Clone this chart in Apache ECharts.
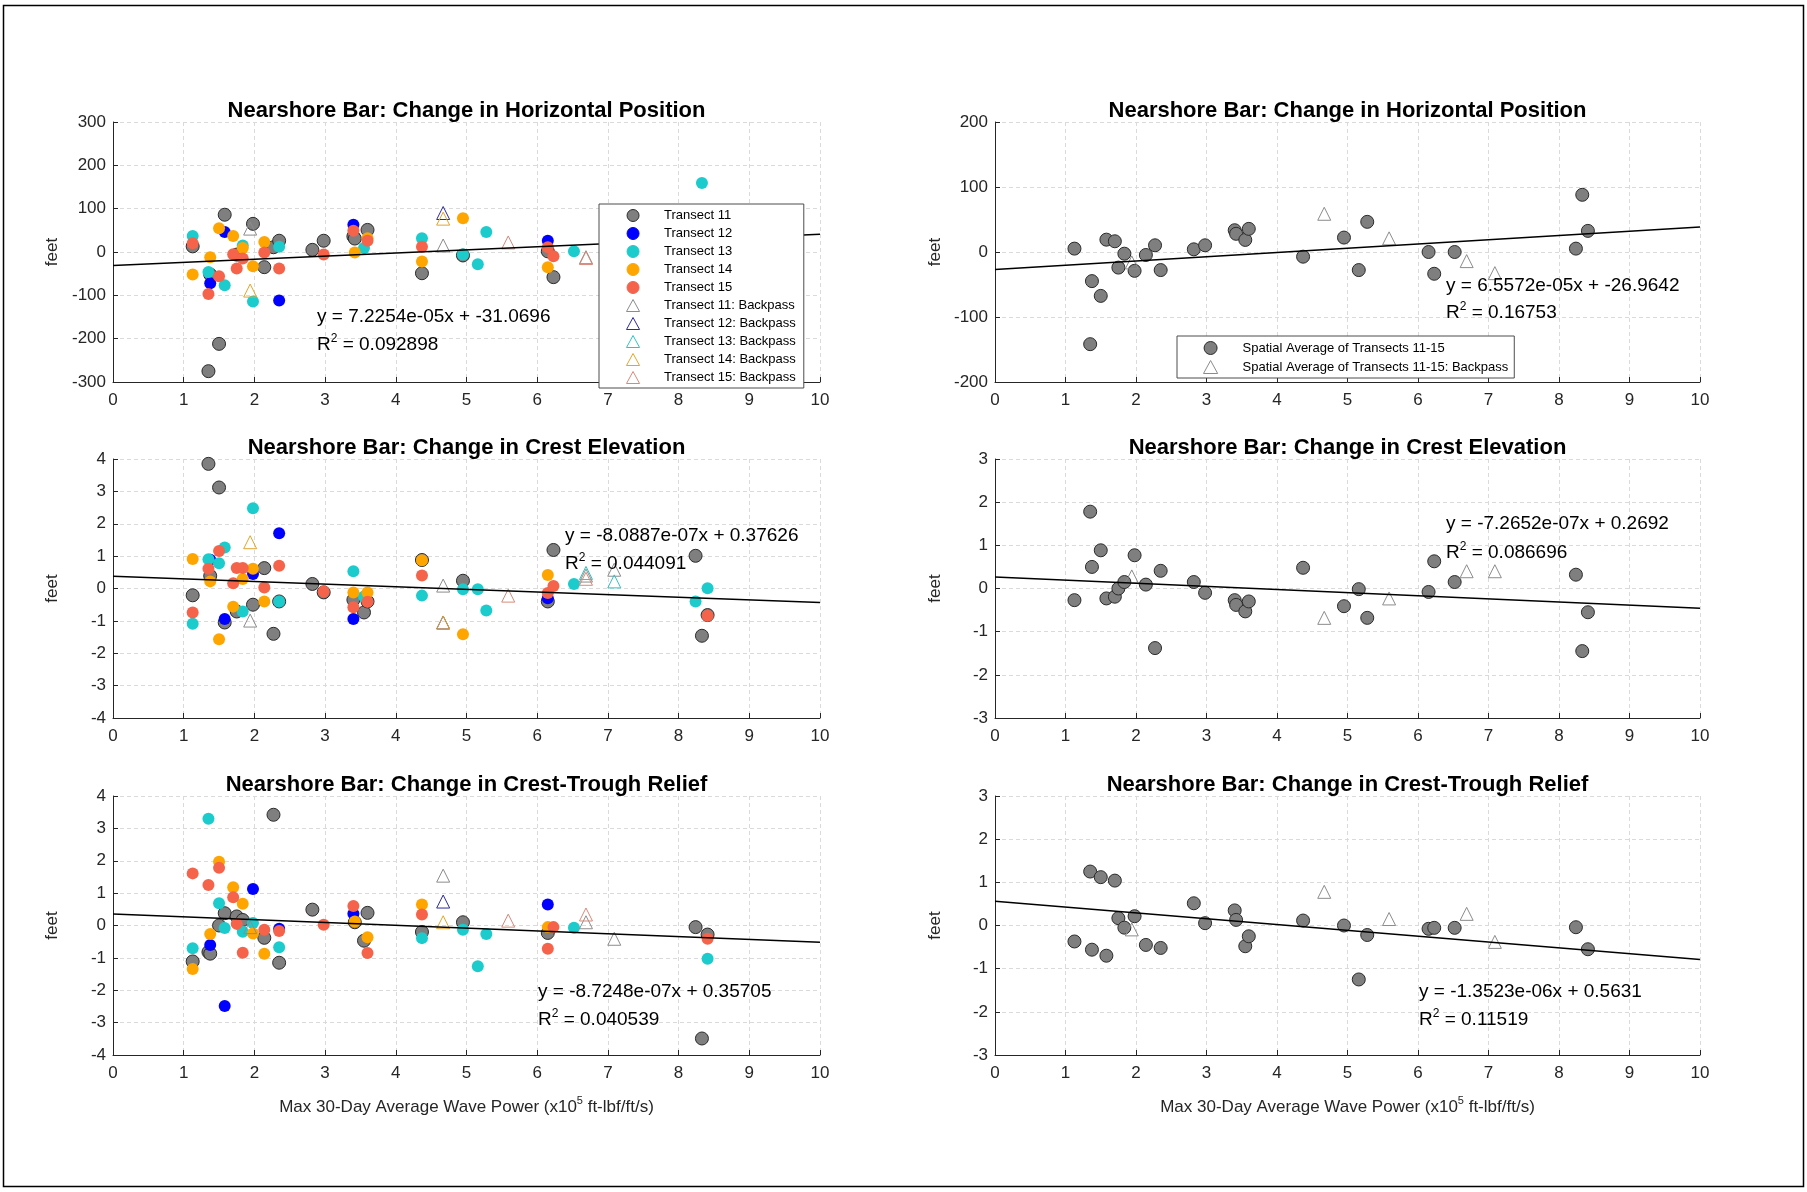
<!DOCTYPE html>
<html>
<head>
<meta charset="utf-8">
<script src="https://cdn.jsdelivr.net/npm/echarts@6/dist/echarts.min.js"></script>
<style>
  html, body { margin: 0; padding: 0; background: #fff; }
  #chart { width: 1807px; height: 1192px; }
</style>
</head>
<body>
<div id="chart"></div>
<script>
// Max 30-day average wave power (x10^5 ft-lbf/ft/s) for each survey
const wavePower = [1.127, 1.35, 1.375, 1.50, 1.58, 1.70, 1.75, 1.835, 1.98, 2.14, 2.27, 2.35, 2.82, 2.98,
  3.40, 3.42, 3.55, 3.60, 4.37, 4.95, 5.16, 5.28, 6.15, 6.23, 6.52, 8.24, 8.33, 8.41];
// Wave power for the backpass surveys
const backpassPower = [1.94, 4.67, 5.59, 6.69, 7.09];

// Change in horizontal position (feet)
const horizT11 = [13, -275, -52, -212, 86, null, -6, null, 65, -35, 11, 26, 5, 26, 36, 31, null, 51, -49, -8, null, null, 1.5, -58, null, null, null, null];
const horizT12 = [null, null, -72, null, 46, null, null, null, null, null, null, -112, null, null, 63, null, null, null, null, null, null, null, 26, null, null, null, null, null];
const horizT13 = [37, -46, null, null, -77, null, null, 15, -114, null, null, 12, null, null, null, null, 9, null, 32, -6, -28, 46, null, null, 1.5, null, 159, null];
const horizT14 = [-52, null, -12, 55, null, 37, null, 9, -33, 23, null, null, null, null, null, -1, null, 32, -22, 78, null, null, -35, null, null, null, null, null];
const horizT15 = [20, -97, null, -56, null, -5, -38, -15, null, -1, null, -38, null, -6, 49, null, null, 26, 12, null, null, null, 11, -10, null, null, null, null];
const horizBpT11 = [54, 15, null, -12, null];
const horizBpT12 = [null, 90, null, null, null];
const horizBpT13 = [null, null, null, null, null];
const horizBpT14 = [-89, 77, null, null, null];
const horizBpT15 = [null, null, 22, -14, null];

// Change in crest elevation (feet)
const crestT11 = [-0.21, 3.85, 0.39, 3.12, -1.05, null, -0.71, null, -0.5, 0.63, -1.40, -0.4, 0.14, -0.12, -0.35, null, -0.74, -0.4, 0.88, 0.24, null, null, -0.4, 1.19, null, 1.01, -1.46, -0.82];
const crestT12 = [null, null, 0.89, null, -0.94, null, null, null, 0.45, null, null, 1.71, null, null, -0.94, null, null, null, null, null, null, null, -0.3, null, null, null, null, null];
const crestT13 = [-1.09, 0.9, null, 0.78, 1.27, null, null, -0.71, 2.48, null, null, -0.4, null, null, 0.53, null, -0.25, null, -0.22, -0.02, -0.02, -0.68, null, null, 0.14, -0.40, null, 0.01];
const crestT14 = [0.91, null, 0.22, -1.57, null, -0.56, null, 0.29, 0.61, -0.40, null, null, null, null, -0.12, null, null, -0.12, 0.87, -1.41, null, null, 0.42, null, null, null, null, null];
const crestT15 = [-0.74, 0.61, null, 1.16, null, 0.16, 0.63, 0.63, null, 0.03, null, 0.70, null, -0.09, -0.58, null, null, -0.41, 0.40, null, null, null, -0.14, 0.08, null, null, null, -0.84];
const crestBpT11 = [-0.99, 0.09, null, 0.4, 0.58];
const crestBpT12 = [null, -1.05, null, null, null];
const crestBpT13 = [null, null, null, 0.48, 0.22];
const crestBpT14 = [1.43, -1.05, null, null, null];
const crestBpT15 = [null, null, -0.22, 0.3, null];

// Change in crest-trough relief (feet)
const reliefT11 = [-1.11, -0.82, -0.87, 0.0, 0.38, null, 0.28, 0.17, null, -0.38, 3.42, -1.15, 0.49, null, null, 0.1, -0.47, 0.39, -0.2, 0.1, null, null, -0.23, null, null, -0.05, -3.49, -0.28];
const reliefT12 = [null, null, -0.6, null, -2.49, null, null, null, 1.13, null, null, -0.1, null, null, 0.36, null, null, null, null, null, null, null, 0.65, null, null, null, null, null];
const reliefT13 = [-0.70, 3.30, null, 0.69, -0.08, null, null, -0.19, 0.08, null, null, -0.67, null, null, null, null, null, null, -0.39, -0.13, -1.26, -0.26, null, null, -0.07, null, null, -1.03];
const reliefT14 = [-1.34, null, -0.26, 1.97, null, 1.18, null, 0.67, -0.25, -0.87, null, null, null, null, null, 0.12, null, -0.36, 0.65, null, null, null, -0.05, null, null, null, null, null];
const reliefT15 = [1.61, 1.25, null, 1.78, null, 0.87, 0.05, -0.84, null, -0.13, null, -0.17, null, 0.02, 0.60, null, null, -0.85, 0.34, null, null, null, -0.72, -0.05, null, null, null, -0.41];
const reliefBpT11 = [-0.05, 1.54, null, 0.1, -0.41];
const reliefBpT12 = [null, 0.74, null, null, null];
const reliefBpT13 = [null, null, null, null, null];
const reliefBpT14 = [null, 0.1, null, null, null];
const reliefBpT15 = [null, null, 0.15, 0.34, null];

// Spatial averages of transects 11-15
const horizAvg = [5.2, -141.8, -44.8, -67.5, 19, 16.5, -24, -2.6, -29, -4.6, 10.3, -27.8, 4.1, 10.3, 33.5, 28, 18.6, 35.6, -7.2, 22.2, -27.8, 46.4, 0, -33.5, 0, 5.2, 88, 32.5];
const horizAvgBp = [-16, 58.8, 21, -14, -32.5];
const crestAvg = [-0.27, 1.78, 0.5, 0.885, -0.23, -0.19, 0, 0.15, 0.77, 0.09, -1.38, 0.41, 0.15, -0.1, -0.27, -0.38, -0.53, -0.3, 0.48, -0.41, -0.015, -0.68, -0.08, 0.63, 0.15, 0.32, -1.45, -0.55];
const crestAvgBp = [0.28, -0.68, -0.23, 0.4, 0.4];
const reliefAvg = [-0.37, 1.25, -0.56, 1.12, -0.70, 1.04, 0.17, -0.05, 0.215, -0.45, null, -0.52, 0.515, 0.054, 0.35, 0.13, -0.48, -0.25, 0.115, 0, -1.25, -0.22, -0.077, -0.054, -0.054, -0.04, null, -0.55];
const reliefAvgBp = [-0.09, 0.78, 0.15, 0.27, -0.38];

// Linear fits (per raw ft-lbf/ft/s), panels in order: top-left, top-right, middle-left, middle-right, bottom-left, bottom-right
const fitSlope = ['7.2254e-05', '6.5572e-05', '-8.0887e-07', '-7.2652e-07', '-8.7248e-07', '-1.3523e-06'];
const fitIntercept = ['-31.0696', '-26.9642', '0.37626', '0.2692', '0.35705', '0.5631'];
const fitR2 = ['0.092898', '0.16753', '0.044091', '0.086696', '0.040539', '0.11519'];

const panelTitles = ['Nearshore Bar: Change in Horizontal Position', 'Nearshore Bar: Change in Horizontal Position',
  'Nearshore Bar: Change in Crest Elevation', 'Nearshore Bar: Change in Crest Elevation',
  'Nearshore Bar: Change in Crest-Trough Relief', 'Nearshore Bar: Change in Crest-Trough Relief'];
const yLimits = [[-300, 300, 100], [-200, 200, 100], [-4, 4, 1], [-3, 3, 1], [-4, 4, 1], [-3, 3, 1]];
const xTicks = [0, 10, 1];

const transectNames = ['Transect 11', 'Transect 12', 'Transect 13', 'Transect 14', 'Transect 15'];
const avgName = 'Spatial Average of Transects 11-15';

// ---- styling & layout ----
const FONT = '"Liberation Sans", Arial, Helvetica, sans-serif';
const AXIS_COLOR = '#262626';
const fillColors = ['#7f7f7f', '#0000ff', '#1ccccc', '#ffa500', '#f5634a'];
const fillBorders = ['#2b2b2b', '#0000ff', '#1ccccc', '#ffa500', '#f5634a'];
const backpassEdges = ['#8c8c8c', '#2a2a9c', '#2fc4c4', '#e3a52a', '#d8897a'];
// Upward triangle outline used for legend keys (keeps its aspect inside the wide key box)
const TRIANGLE_ICON = 'path://M6,0 L12,11 L0,11 Z';

const grids = [
  { left: 113, top: 122, width: 707, height: 260 },
  { left: 995, top: 122, width: 705, height: 260 },
  { left: 113, top: 459, width: 707, height: 259 },
  { left: 995, top: 459, width: 705, height: 259 },
  { left: 113, top: 796, width: 707, height: 259 },
  { left: 995, top: 796, width: 705, height: 259 }
];

function pairs(xs, ys) {
  const out = [];
  xs.forEach((x, i) => { if (ys[i] != null) out.push([x, ys[i]]); });
  return out;
}

const xAxes = grids.map((g, i) => ({
  type: 'value', gridIndex: i, min: xTicks[0], max: xTicks[1], interval: xTicks[2],
  axisLine: { show: true, onZero: false, lineStyle: { color: AXIS_COLOR, width: 1 } },
  axisTick: { show: true, inside: true, length: 5, lineStyle: { color: AXIS_COLOR } },
  axisLabel: { fontSize: 17, color: AXIS_COLOR, margin: 10, fontFamily: FONT },
  splitLine: { show: true, lineStyle: { color: '#dadada', type: [4, 3], width: 1 } },
  name: i >= 4 ? 'Max 30-Day Average Wave Power (x10{s|5} ft-lbf/ft/s)' : '',
  nameLocation: 'middle', nameGap: 40,
  nameTextStyle: {
    fontSize: 17, color: AXIS_COLOR, fontFamily: FONT, lineHeight: 24,
    rich: { s: { fontSize: 11, color: AXIS_COLOR, fontFamily: FONT, verticalAlign: 'top', lineHeight: 14 } }
  }
}));

const yAxes = grids.map((g, i) => ({
  type: 'value', gridIndex: i, min: yLimits[i][0], max: yLimits[i][1], interval: yLimits[i][2],
  axisLine: { show: true, onZero: false, lineStyle: { color: AXIS_COLOR, width: 1 } },
  axisTick: { show: true, inside: true, length: 5, lineStyle: { color: AXIS_COLOR } },
  axisLabel: { fontSize: 17, color: AXIS_COLOR, margin: 7, fontFamily: FONT },
  splitLine: { show: true, lineStyle: { color: '#dadada', type: [4, 3], width: 1 } },
  name: 'feet', nameLocation: 'middle', nameGap: i % 2 === 0 ? 52 : 51,
  nameTextStyle: { fontSize: 17, color: AXIS_COLOR, fontFamily: FONT }
}));

const transectPanels = [
  { axis: 0, values: [horizT11, horizT12, horizT13, horizT14, horizT15], backpass: [horizBpT11, horizBpT12, horizBpT13, horizBpT14, horizBpT15] },
  { axis: 2, values: [crestT11, crestT12, crestT13, crestT14, crestT15], backpass: [crestBpT11, crestBpT12, crestBpT13, crestBpT14, crestBpT15] },
  { axis: 4, values: [reliefT11, reliefT12, reliefT13, reliefT14, reliefT15], backpass: [reliefBpT11, reliefBpT12, reliefBpT13, reliefBpT14, reliefBpT15] }
];
const averagePanels = [
  { axis: 1, values: horizAvg, backpass: horizAvgBp },
  { axis: 3, values: crestAvg, backpass: crestAvgBp },
  { axis: 5, values: reliefAvg, backpass: reliefAvgBp }
];

const series = [];
transectPanels.forEach(p => {
  p.values.forEach((vals, t) => {
    series.push({
      type: 'scatter', name: transectNames[t], xAxisIndex: p.axis, yAxisIndex: p.axis,
      symbol: 'circle', symbolSize: t === 0 ? 13 : 12,
      itemStyle: { color: fillColors[t], borderColor: fillBorders[t], borderWidth: t === 0 ? 1 : 0, opacity: 1 },
      data: pairs(wavePower, vals), silent: true
    });
  });
  p.backpass.forEach((vals, t) => {
    series.push({
      type: 'scatter', name: transectNames[t] + ': Backpass', xAxisIndex: p.axis, yAxisIndex: p.axis,
      symbol: 'triangle', symbolSize: 13,
      itemStyle: { color: 'rgba(255,255,255,0)', borderColor: backpassEdges[t], borderWidth: 1, opacity: 1 },
      data: pairs(backpassPower, vals), silent: true
    });
  });
});
averagePanels.forEach(p => {
  series.push({
    type: 'scatter', name: avgName, xAxisIndex: p.axis, yAxisIndex: p.axis,
    symbol: 'circle', symbolSize: 13,
    itemStyle: { color: '#7f7f7f', borderColor: '#2b2b2b', borderWidth: 1, opacity: 1 },
    data: pairs(wavePower, p.values), silent: true
  });
  series.push({
    type: 'scatter', name: avgName + ': Backpass', xAxisIndex: p.axis, yAxisIndex: p.axis,
    symbol: 'triangle', symbolSize: 13,
    itemStyle: { color: 'rgba(255,255,255,0)', borderColor: '#8c8c8c', borderWidth: 1, opacity: 1 },
    data: pairs(backpassPower, p.backpass), silent: true
  });
});
// Fitted trend lines (x axis is in units of 1e5)
fitSlope.forEach((s, i) => {
  const m = parseFloat(s) * 1e5;
  const b = parseFloat(fitIntercept[i]);
  series.push({
    type: 'line', name: 'fit' + i, xAxisIndex: i, yAxisIndex: i,
    data: [[xTicks[0], b + m * xTicks[0]], [xTicks[1], b + m * xTicks[1]]],
    symbol: 'none', silent: true, z: 3,
    lineStyle: { color: '#000', width: 1.5 }
  });
});

// Titles and fit annotations
const graphics = [{
  type: 'rect', silent: true, z: 100,
  shape: { x: 3.5, y: 5.5, width: 1800, height: 1181 },
  style: { fill: 'none', stroke: '#000', lineWidth: 1.5 }
}];
grids.forEach((g, i) => {
  graphics.push({
    type: 'text', x: g.left + g.width / 2, y: g.top - 11, silent: true, z: 100,
    style: { text: panelTitles[i], fill: '#000', fontSize: 22, fontWeight: 'bold', fontFamily: FONT, align: 'center', verticalAlign: 'middle' }
  });
});
const eqPos = [[317, 317, 345], [1446, 286, 313], [565, 536, 564], [1446, 524, 553], [538, 992, 1020], [1419, 992, 1020]];
eqPos.forEach((p, i) => {
  graphics.push({
    type: 'text', x: p[0], y: p[1], silent: true, z: 100,
    style: { text: 'y = ' + fitSlope[i] + 'x + ' + fitIntercept[i], fill: '#000', fontSize: 19, fontFamily: FONT, align: 'left', verticalAlign: 'middle' }
  });
  graphics.push({
    type: 'text', x: p[0], y: p[2], silent: true, z: 100,
    style: {
      text: '{b|R}{s|2}{b| = ' + fitR2[i] + '}', fill: '#000', fontSize: 19, fontFamily: FONT, align: 'left', verticalAlign: 'middle',
      rich: {
        b: { fontSize: 19, fontFamily: FONT, fill: '#000', lineHeight: 24 },
        s: { fontSize: 12, fontFamily: FONT, fill: '#000', lineHeight: 14, verticalAlign: 'top' }
      }
    }
  });
});

const legendKey = name => (name.indexOf('Backpass') >= 0 ? { name: name, icon: TRIANGLE_ICON } : { name: name });

const option = {
  animation: false,
  backgroundColor: '#fff',
  textStyle: { fontFamily: FONT },
  grid: grids,
  xAxis: xAxes,
  yAxis: yAxes,
  legend: [
    {
      data: transectNames.concat(transectNames.map(n => n + ': Backpass')).map(legendKey),
      orient: 'vertical', left: 599, top: 204, padding: [5, 8, 4, 27],
      itemWidth: 52, itemHeight: 12, itemGap: 5, selectedMode: false, symbolKeepAspect: true,
      itemStyle: { borderWidth: 1 },
      textStyle: { fontSize: 13, color: '#000', fontFamily: FONT },
      backgroundColor: '#fff', borderColor: '#4d4d4d', borderWidth: 1, borderRadius: 0, z: 10
    },
    {
      data: [avgName, avgName + ': Backpass'].map(legendKey),
      orient: 'vertical', left: 1177, top: 336, padding: [5, 6, 4, 26],
      itemWidth: 54, itemHeight: 13, itemGap: 5, selectedMode: false, symbolKeepAspect: true,
      itemStyle: { borderWidth: 1 },
      textStyle: { fontSize: 13, color: '#000', fontFamily: FONT },
      backgroundColor: '#fff', borderColor: '#4d4d4d', borderWidth: 1, borderRadius: 0, z: 10
    }
  ],
  series: series,
  graphic: graphics
};

const chart = echarts.init(document.getElementById('chart'), null, { renderer: 'canvas', width: 1807, height: 1192 });
chart.setOption(option);
</script>
</body>
</html>
